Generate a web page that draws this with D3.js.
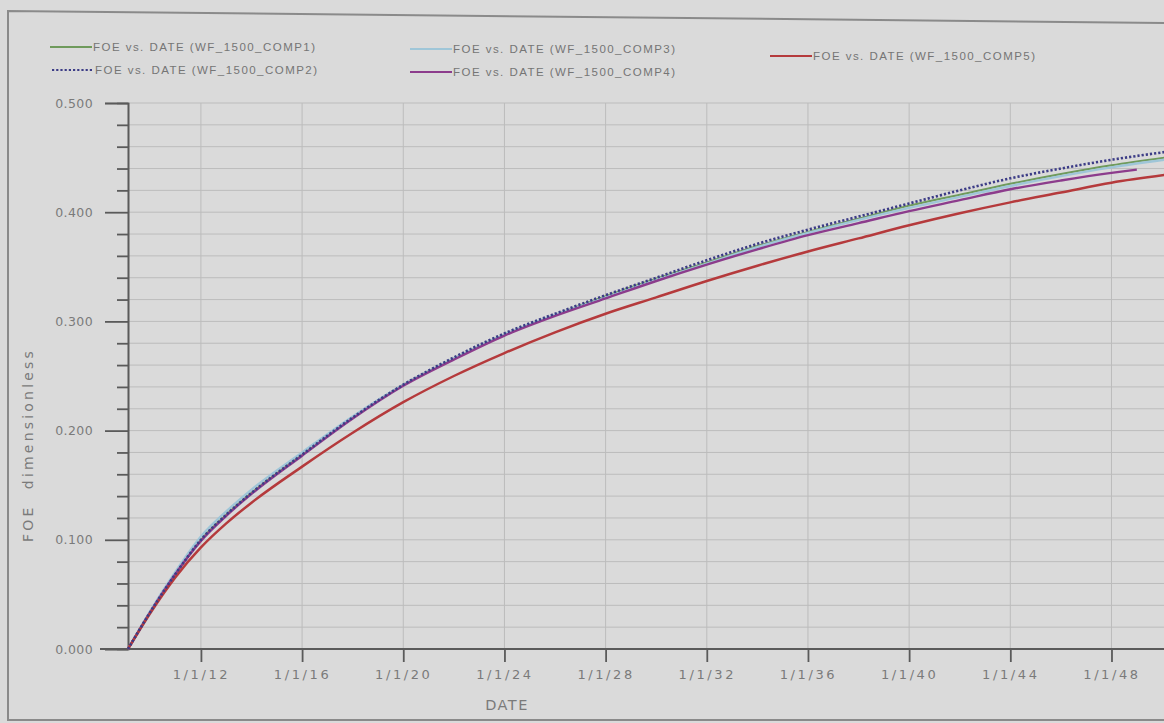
<!DOCTYPE html>
<html>
<head>
<meta charset="utf-8">
<script src="https://cdn.jsdelivr.net/npm/d3@7"></script>
<style>
  html, body { margin: 0; padding: 0; background: #d9d9d9; }
  svg { display: block; }
</style>
</head>
<body>
<svg id="chart" width="1164" height="723"></svg>
<script>
// ---------------- data ----------------
const seriesNames = ["WF_1500_COMP1", "WF_1500_COMP2", "WF_1500_COMP3", "WF_1500_COMP4", "WF_1500_COMP5"];
const dates = ["2009-02-12","2010-01-01","2011-01-01","2012-01-01","2013-01-01","2014-01-01","2016-01-01",
  "2018-01-01","2020-01-01","2022-01-01","2024-01-01","2026-01-01","2028-01-01","2030-01-01","2032-01-01",
  "2034-01-01","2036-01-01","2038-01-01","2040-01-01","2042-01-01","2044-01-01","2046-01-01","2048-01-01","2050-02-01"];
const comp1 = [0, 0.034, 0.069, 0.100, 0.123, 0.143, 0.178, 0.212, 0.242, 0.266, 0.288, 0.306, 0.323, 0.339, 0.354, 0.369, 0.382, 0.394, 0.406, 0.416, 0.426, 0.435, 0.443, 0.450];
const comp2 = [0, 0.034, 0.069, 0.100, 0.123, 0.143, 0.178, 0.212, 0.242, 0.267, 0.289, 0.307, 0.324, 0.340, 0.356, 0.371, 0.384, 0.396, 0.408, 0.420, 0.431, 0.440, 0.448, 0.455];
const comp3 = [0, 0.035, 0.071, 0.103, 0.126, 0.146, 0.180, 0.213, 0.242, 0.266, 0.288, 0.306, 0.322, 0.338, 0.353, 0.368, 0.381, 0.393, 0.404, 0.414, 0.424, 0.433, 0.441, 0.448];
const comp4Dates = ["2009-02-12","2010-01-01","2011-01-01","2012-01-01","2013-01-01","2014-01-01","2016-01-01",
  "2018-01-01","2020-01-01","2022-01-01","2024-01-01","2026-01-01","2028-01-01","2030-01-01","2032-01-01",
  "2034-01-01","2036-01-01","2038-01-01","2040-01-01","2042-01-01","2044-01-01","2046-01-01","2048-01-01","2049-01-01"];
const comp4 = [0, 0.034, 0.069, 0.099, 0.122, 0.142, 0.177, 0.211, 0.241, 0.265, 0.287, 0.305, 0.321, 0.337, 0.352, 0.366, 0.379, 0.390, 0.401, 0.411, 0.421, 0.429, 0.436, 0.439];
const comp5 = [0, 0.033, 0.066, 0.093, 0.115, 0.134, 0.167, 0.198, 0.226, 0.250, 0.271, 0.290, 0.307, 0.322, 0.337, 0.351, 0.364, 0.376, 0.388, 0.399, 0.409, 0.418, 0.427, 0.434];
const yMajorTicks = [0, 0.1, 0.2, 0.3, 0.4, 0.5];
const yMinorTicks = [0.02,0.04,0.06,0.08,0.12,0.14,0.16,0.18,0.22,0.24,0.26,0.28,0.32,0.34,0.36,0.38,0.42,0.44,0.46,0.48];
const xTickLabels = ["1/1/12","1/1/16","1/1/20","1/1/24","1/1/28","1/1/32","1/1/36","1/1/40","1/1/44","1/1/48"];
const xDomain = ["2009-02-12", "2050-04-25"];
const yLabel = "FOE  dimensionless";
const xLabel = "DATE";

// ---------------- drawing ----------------
(function () {
const svg = d3.select("#chart");
const W = 1164, H = 723;
const pIso = d3.timeParse("%Y-%m-%d");
const pTick = d3.timeParse("%m/%d/%y");
const pl = 128, pr = 1170, pt = 103, pb = 649;

const x = d3.scaleTime().domain(xDomain.map(pIso)).range([pl, pr]);
const y = d3.scaleLinear().domain([0, 0.5]).range([pb, pt]);

const textCol = "#7a7a7a";
const gridCol = "#bcbcbc";
const axisCol = "#5a5a5a";

// frame
svg.append("rect").attr("width", W).attr("height", H).attr("fill", "#dadada");
svg.append("path").attr("d", "M1170,23 L8,11 L8,720 L1170,720")
  .attr("fill", "none").attr("stroke", "#8a8a8a").attr("stroke-width", 2);

const xTickDates = xTickLabels.map(pTick);

// grid
const grid = svg.append("g");
grid.selectAll("line.h").data(yMajorTicks.concat(yMinorTicks)).join("line")
  .attr("x1", pl).attr("x2", W).attr("y1", d => y(d)).attr("y2", d => y(d))
  .attr("stroke", gridCol).attr("stroke-width", 1);
grid.selectAll("line.v").data(xTickDates).join("line")
  .attr("y1", pt).attr("y2", pb).attr("x1", d => x(d)).attr("x2", d => x(d))
  .attr("stroke", gridCol).attr("stroke-width", 1);

// y axis
const yMaj = svg.append("g").attr("transform", `translate(${pl},0)`)
  .call(d3.axisLeft(y).tickValues(yMajorTicks).tickSize(23).tickPadding(12).tickFormat(d3.format(".3f")));
const yMin = svg.append("g").attr("transform", `translate(${pl},0)`)
  .call(d3.axisLeft(y).tickValues(yMinorTicks).tickSize(11).tickFormat(""));
[yMaj, yMin].forEach(g => {
  g.select(".domain").attr("stroke", axisCol).attr("stroke-width", 1.6);
  g.selectAll(".tick line").attr("stroke", axisCol).attr("stroke-width", 1.8);
});
yMaj.selectAll("text").attr("fill", textCol).attr("font-family", "DejaVu Sans, sans-serif")
  .attr("font-size", 12.5).attr("letter-spacing", "0.4px");

// x axis
const xAx = svg.append("g").attr("transform", `translate(0,${pb})`)
  .call(d3.axisBottom(x).tickValues(xTickDates).tickSize(13).tickPadding(8)
    .tickFormat((d, i) => xTickLabels[i]));
xAx.select(".domain").remove();
xAx.append("line").attr("x1", 100).attr("x2", W).attr("y1", 0).attr("y2", 0)
  .attr("stroke", axisCol).attr("stroke-width", 2);
xAx.selectAll(".tick line").attr("stroke", axisCol).attr("stroke-width", 1.8);
xAx.selectAll("text").attr("fill", textCol).attr("font-family", "DejaVu Sans, sans-serif")
  .attr("font-size", 13).attr("letter-spacing", "2.6px");

// axis titles
svg.append("text").attr("x", 507).attr("y", 710).attr("text-anchor", "middle")
  .attr("fill", textCol).attr("font-family", "DejaVu Sans, sans-serif").attr("font-size", 14.5)
  .attr("letter-spacing", "1.5px").text(xLabel);
svg.append("text").attr("transform", "translate(33,445) rotate(-90)").attr("text-anchor", "middle")
  .attr("fill", textCol).attr("font-family", "DejaVu Sans, sans-serif").attr("font-size", 14)
  .attr("letter-spacing", "3.2px").style("white-space", "pre").text(yLabel);

// series
const series = [
  { name: seriesNames[0], d: dates, v: comp1, color: "#6f9a5c", w: 2, dash: null, lx: 50, ly: 47 },
  { name: seriesNames[2], d: dates, v: comp3, color: "#9fc6d8", w: 2.4, dash: null, lx: 410, ly: 49 },
  { name: seriesNames[3], d: comp4Dates, v: comp4, color: "#8c3c8c", w: 2.4, dash: null, lx: 410, ly: 72 },
  { name: seriesNames[4], d: dates, v: comp5, color: "#b53a3c", w: 2.5, dash: null, lx: 770, ly: 56 },
  { name: seriesNames[1], d: dates, v: comp2, color: "#3c3c86", w: 2.6, dash: "2.2,2", lx: 52, ly: 70 }
];
const line = d3.line().x(p => x(p[0])).y(p => y(p[1])).curve(d3.curveMonotoneX);
const lines = svg.append("g");
series.forEach(s => {
  const pts = s.d.map((dd, i) => [pIso(dd), s.v[i]]);
  lines.append("path").attr("d", line(pts)).attr("fill", "none")
    .attr("stroke", s.color).attr("stroke-width", s.w)
    .attr("stroke-dasharray", s.dash);
});

// legend
const leg = svg.append("g");
series.forEach(s => {
  leg.append("line").attr("x1", s.lx).attr("x2", s.lx + 42).attr("y1", s.ly).attr("y2", s.ly)
    .attr("stroke", s.color).attr("stroke-width", 2).attr("stroke-dasharray", s.dash);
  leg.append("text").attr("x", s.lx + 43).attr("y", s.ly + 4)
    .attr("fill", "#757575").attr("font-family", "Liberation Sans, Arial, sans-serif").attr("font-size", 11.5)
    .attr("textLength", 222).attr("lengthAdjust", "spacing")
    .text(`FOE vs. DATE (${s.name})`);
});
})();
</script>
</body>
</html>
